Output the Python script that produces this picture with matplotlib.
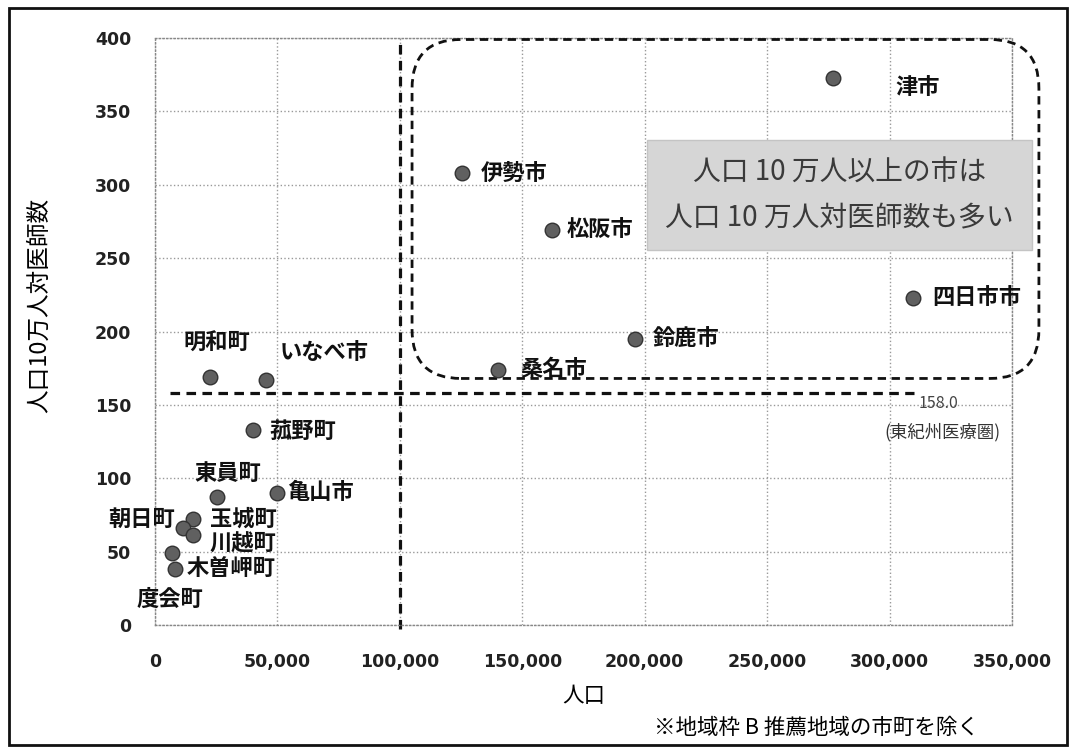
import matplotlib
matplotlib.use("Agg")
import matplotlib.pyplot as plt
from matplotlib.patches import FancyBboxPatch, Rectangle
from matplotlib.ticker import FuncFormatter, MultipleLocator

plt.rcParams['font.family'] = ['Noto Sans CJK JP', 'DejaVu Sans']

# population vs doctors per 100k population (Mie pref. municipalities)
names = ['津市', '伊勢市', '松阪市', '四日市市', '鈴鹿市', '桑名市',
         '明和町', 'いなべ市', '菰野町', '東員町', '亀山市',
         '玉城町', '朝日町', '川越町', '木曽岬町', '度会町']
population = [277000, 125300, 162000, 309400, 196000, 140000,
              22400, 45300, 40000, 25300, 49800,
              15500, 11400, 15500, 6900, 8200]
doctors = [373, 308, 269, 223, 195, 174,
           169, 167, 133, 87, 90,
           72, 66, 61, 49, 38]

# label offsets in points (dx, dy, ha)
label_pos = {
    '津市': (45, -7, 'left'), '伊勢市': (14, 0, 'left'), '松阪市': (11, 0, 'left'),
    '四日市市': (14, 0, 'left'), '鈴鹿市': (13, 0, 'left'), '桑名市': (16, 0, 'left'),
    '明和町': (5, 24, 'center'), 'いなべ市': (10, 20, 'left'), '菰野町': (12, -1, 'left'),
    '東員町': (8, 17, 'center'), '亀山市': (7, 0, 'left'), '玉城町': (12, 0, 'left'),
    '朝日町': (-6, 6, 'right'), '川越町': (12, -6, 'left'), '木曽岬町': (11, -11, 'left'),
    '度会町': (-4, -22, 'center'),
}

region_avg = 158.0
line_x = [6000, 310000]
split_x = 100000

fig = plt.figure(figsize=(10.76, 7.53), dpi=100)
ax = fig.add_axes([0.144, 0.170, 0.7965, 0.7795])

ax.set_xlim(0, 350000)
ax.set_ylim(0, 400)
ax.xaxis.set_major_locator(MultipleLocator(50000))
ax.yaxis.set_major_locator(MultipleLocator(50))
ax.xaxis.set_major_formatter(FuncFormatter(lambda v, p: f'{int(v):,}'))
ax.grid(True, color='#999999', linestyle=':', linewidth=1.0)
ax.set_axisbelow(True)
for s in ax.spines.values():
    s.set_color('#888888')
    s.set_linestyle(':')
    s.set_linewidth(1.0)
ax.tick_params(length=0, labelsize=12.5, colors='#222222')
ax.tick_params(axis='x', pad=20)
ax.tick_params(axis='y', pad=17)
for t in ax.get_xticklabels() + ax.get_yticklabels():
    t.set_fontweight('bold')
    t.set_family(['DejaVu Sans'])

# regional average and 100k split lines
ax.plot(line_x, [region_avg, region_avg], color='#111111', lw=2.3,
        linestyle=(0, (3, 2)), zorder=2)
ax.plot([split_x, split_x], [-3, 400], color='#111111', lw=2.3,
        linestyle=(0, (3, 2)), zorder=2, clip_on=False)
ax.text(line_x[1] + 2000, region_avg - 1, f'{region_avg:.1f}', fontsize=11.5,
        color='#444444', ha='left', va='top')
ax.text(321600, 131.5, '(東紀州医療圏)', fontsize=12.5,
        color='#333333', ha='center', va='center')

ax.scatter(population, doctors, s=110, color='#606060', edgecolors='#333333',
           linewidths=1.0, zorder=4)
for n, x, y in zip(names, population, doctors):
    dx, dy, ha = label_pos[n]
    ax.annotate(n, (x, y), xytext=(dx, dy), textcoords='offset points',
                ha=ha, va='center', fontsize=16, fontweight='bold',
                color='#111111', zorder=5)

# rounded dashed frame around the large cities
xpp = 50000 / 122.5
ypp = 50 / 73.4
frame = FancyBboxPatch((105000, 168), 256000, 231,
                       boxstyle='round,pad=0,rounding_size=20000',
                       mutation_aspect=ypp / xpp, fill=False,
                       edgecolor='#111111', lw=2.0, linestyle=(0, (3, 2)),
                       clip_on=False, zorder=3)
ax.add_patch(frame)

# note box
note = FancyBboxPatch((201000, 255.5), 157000, 75,
                      boxstyle='square,pad=0', facecolor='#d6d6d6',
                      edgecolor='#c4c4c4', lw=1.0, clip_on=False, zorder=5)
ax.add_patch(note)
ax.text(279500, 293, '人口 10 万人以上の市は\n人口 10 万人対医師数も多い',
        fontsize=20, color='#3a3a3a', ha='center', va='center',
        linespacing=1.6, zorder=6)

ax.set_xlabel('人口', fontsize=15.5, labelpad=10)
fig.text(0.037, 0.595, '人口10万人対医師数', rotation=90, fontsize=17,
         ha='center', va='center')
fig.text(0.608, 0.033, '※地域枠 B 推薦地域の市町を除く', fontsize=15.5,
         ha='left', va='center')

fig.add_artist(Rectangle((0.008, 0.011), 0.984, 0.978, transform=fig.transFigure,
                         fill=False, edgecolor='#111111', lw=2.0))

fig.savefig('out.png', dpi=100)
